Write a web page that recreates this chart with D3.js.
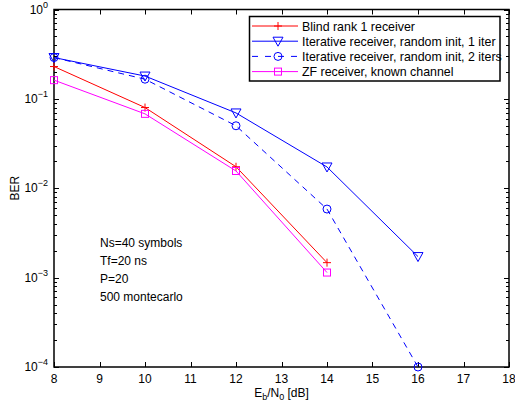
<!DOCTYPE html>
<html>
<head>
<meta charset="utf-8">
<script src="https://cdn.jsdelivr.net/npm/d3@7"></script>
<style>
  html, body { margin: 0; padding: 0; background: #fff; }
  svg { display: block; font-family: "Liberation Sans", Arial, Helvetica, sans-serif; }
</style>
</head>
<body>
<svg id="chart" width="515" height="408"></svg>
<script>
// SNR points (dB)
const snr = [8, 10, 12, 14, 16];

// BER curves
const berBlind = [0.23, 0.080, 0.0174, 0.00147];
const berIter1 = [0.29, 0.180, 0.0696, 0.0173, 0.00172];
const berIter2 = [0.29, 0.166, 0.0500, 0.00585, 0.0001];
const berZF    = [0.162, 0.068, 0.0156, 0.00114];

const seriesNames = [
  "Blind rank 1 receiver",
  "Iterative receiver, random init, 1 iter",
  "Iterative receiver, random init, 2 iters",
  "ZF receiver, known channel"
];

const xTicks = [8, 9, 10, 11, 12, 13, 14, 15, 16, 17, 18];
const yTickExp = [0, -1, -2, -3, -4];

const notes = ["Ns=40 symbols", "Tf=20 ns", "P=20", "500 montecarlo"];

const series = [
  { name: seriesNames[0], values: berBlind, color: "#ff0000", dash: null, marker: "plus" },
  { name: seriesNames[1], values: berIter1, color: "#0000ff", dash: null, marker: "tri" },
  { name: seriesNames[2], values: berIter2, color: "#0000ff", dash: "6,5", marker: "circle" },
  { name: seriesNames[3], values: berZF,    color: "#ff00ff", dash: null, marker: "square" }
];

const svg = d3.select("#chart");
const pL = 54, pR = 509, pT = 9.5, pB = 367;

const x = d3.scaleLinear().domain([8, 18]).range([pL, pR]);
const y = d3.scaleLog().domain([1e-4, 1]).range([pB, pT]);

// minor ticks for log scale
const minor = [];
for (let e = -4; e < 0; e++) {
  for (let m = 2; m <= 9; m++) minor.push(m * Math.pow(10, e));
}

const axG = svg.append("g").attr("stroke", "#000").attr("stroke-width", 1);

// x ticks (bottom and top, pointing inward)
xTicks.forEach(t => {
  const px = Math.round(x(t)) + 0.5;
  axG.append("line").attr("x1", px).attr("x2", px).attr("y1", pB).attr("y2", pB - 5);
  axG.append("line").attr("x1", px).attr("x2", px).attr("y1", pT).attr("y2", pT + 5);
});
// y major ticks
yTickExp.forEach(e => {
  const py = Math.round(y(Math.pow(10, e))) + 0.5;
  axG.append("line").attr("x1", pL).attr("x2", pL + 5).attr("y1", py).attr("y2", py);
  axG.append("line").attr("x1", pR).attr("x2", pR - 5).attr("y1", py).attr("y2", py);
});
// y minor ticks
minor.forEach(v => {
  const py = Math.round(y(v)) + 0.5;
  axG.append("line").attr("x1", pL).attr("x2", pL + 3).attr("y1", py).attr("y2", py);
  axG.append("line").attr("x1", pR).attr("x2", pR - 3).attr("y1", py).attr("y2", py);
});

// frame
svg.append("rect")
  .attr("x", pL).attr("y", pT)
  .attr("width", pR - pL).attr("height", pB - pT)
  .attr("fill", "none").attr("stroke", "#000").attr("stroke-width", 1.5);

// x tick labels
svg.append("g").selectAll("text").data(xTicks).join("text")
  .attr("x", d => x(d)).attr("y", pB + 16)
  .attr("text-anchor", "middle").attr("font-size", 12).attr("fill", "#000")
  .text(d => d);

// y tick labels with superscript exponent
yTickExp.forEach(e => {
  const t = svg.append("text")
    .attr("x", pL - 6).attr("y", y(Math.pow(10, e)) + 4)
    .attr("text-anchor", "end").attr("font-size", 12).attr("fill", "#000");
  t.append("tspan").text("10");
  t.append("tspan").attr("dy", -6).attr("font-size", 9).text(e === 0 ? "0" : "\u2212" + (-e));
});

// axis titles
const xl = svg.append("text")
  .attr("x", (pL + pR) / 2).attr("y", 397)
  .attr("text-anchor", "middle").attr("font-size", 12).attr("fill", "#000");
xl.append("tspan").text("E");
xl.append("tspan").attr("dy", 3).attr("font-size", 9).text("b");
xl.append("tspan").attr("dy", -3).text("/N");
xl.append("tspan").attr("dy", 3).attr("font-size", 9).text("0");
xl.append("tspan").attr("dy", -3).text(" [dB]");

svg.append("text")
  .attr("transform", `translate(19,${(pT + pB) / 2}) rotate(-90)`)
  .attr("text-anchor", "middle").attr("font-size", 12).attr("fill", "#000")
  .text("BER");

// marker drawing
function drawMarker(g, type, cx, cy, color) {
  if (type === "plus") {
    g.append("path").attr("d", `M${cx - 4},${cy}H${cx + 4}M${cx},${cy - 4}V${cy + 4}`)
      .attr("stroke", color).attr("stroke-width", 1).attr("fill", "none");
  } else if (type === "tri") {
    g.append("path").attr("d", `M${cx - 5},${cy - 4}L${cx + 5},${cy - 4}L${cx},${cy + 5}Z`)
      .attr("stroke", color).attr("stroke-width", 1).attr("fill", "none");
  } else if (type === "circle") {
    g.append("circle").attr("cx", cx).attr("cy", cy).attr("r", 4)
      .attr("stroke", color).attr("stroke-width", 1).attr("fill", "none");
  } else if (type === "square") {
    g.append("rect").attr("x", cx - 3.5).attr("y", cy - 3.5).attr("width", 7).attr("height", 7)
      .attr("stroke", color).attr("stroke-width", 1).attr("fill", "none");
  }
}

const line = d3.line().x(d => x(d[0])).y(d => y(d[1]));

series.forEach(s => {
  const pts = s.values.map((v, i) => [snr[i], v]);
  const g = svg.append("g");
  g.append("path").attr("d", line(pts))
    .attr("fill", "none").attr("stroke", s.color).attr("stroke-width", 1)
    .attr("stroke-dasharray", s.dash);
  pts.forEach(p => drawMarker(g, s.marker, x(p[0]), y(p[1]), s.color));
});

// legend
const lg = svg.append("g");
lg.append("rect").attr("x", 249.5).attr("y", 16.5).attr("width", 250.5).attr("height", 64.5)
  .attr("fill", "#fff").attr("stroke", "#000").attr("stroke-width", 1.5);
series.forEach((s, i) => {
  const ly = 26 + i * 15.2;
  lg.append("line").attr("x1", 252).attr("x2", 298).attr("y1", ly).attr("y2", ly)
    .attr("stroke", s.color).attr("stroke-width", 1).attr("stroke-dasharray", s.dash ? "6,7" : null);
  drawMarker(lg, s.marker, 278, ly, s.color);
  lg.append("text").attr("x", 302).attr("y", ly + 4.5)
    .attr("font-size", 12.4).attr("fill", "#000").text(s.name);
});

// simulation parameters
notes.forEach((n, i) => {
  svg.append("text").attr("x", 100).attr("y", 247 + i * 18)
    .attr("font-size", 12).attr("fill", "#000").text(n);
});
</script>
</body>
</html>
